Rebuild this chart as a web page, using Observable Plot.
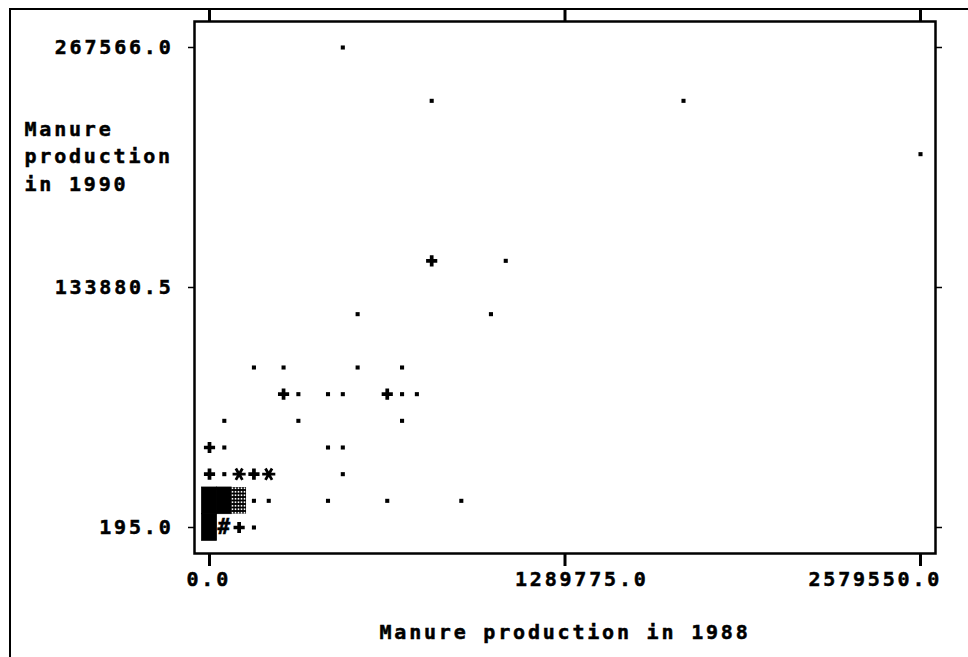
<!DOCTYPE html>
<html>
<head>
<meta charset="utf-8">
<script src="https://cdn.jsdelivr.net/npm/d3@7"></script>
<script src="https://cdn.jsdelivr.net/npm/@observablehq/plot@0.6"></script>
<style>
  html, body { margin: 0; padding: 0; background: white; overflow: hidden; }
  #wrap { position: relative; width: 968px; height: 657px; background: white; }
  #outer { position: absolute; left: 9px; top: 8px; width: 1000px; height: 700px;
           border-left: 2px solid black; border-top: 2px solid black; pointer-events: none; }
  #wrap svg { position: absolute; left: 0; top: 0; }
  #wrap svg text { stroke: black; stroke-width: 0.5px; }
</style>
</head>
<body>
<div id="wrap"><div id="outer"></div></div>
<script>
// Manure production, 1988 (x) vs 1990 (y); one entry per plotted character cell
const manure1988 = [
  483666, 806109, 1719700, 2579550, 806109, 1074813, 537406, 1021072,
  161222, 268703, 537406, 698628,
  268703, 322444, 429925, 483666, 644888, 698628, 752369,
  53741, 322444, 698628,
  0, 53741, 429925, 483666,
  0, 53741, 107481, 161222, 214963, 483666,
  0, 53741, 107481, 161222, 214963, 429925, 644888, 913591,
  0, 53741, 107481, 161222
];
const manure1990 = [
  267566, 237858, 237858, 208150, 148734, 148734, 119027, 119027,
  89319, 89319, 89319, 89319,
  74465, 74465, 74465, 74465, 74465, 74465, 74465,
  59611, 59611, 59611,
  44757, 44757, 44757, 44757,
  29903, 29903, 29903, 29903, 29903, 29903,
  15049, 15049, 15049, 15049, 15049, 15049, 15049, 15049,
  195, 195, 195, 195
];
// plot symbol per cell: "." one, "+" two, "*" three, "#" four, "shade" many, "solid" most
const symbols = [
  ".", ".", ".", ".", "+", ".", ".", ".",
  ".", ".", ".", ".",
  "+", ".", ".", ".", "+", ".", ".",
  ".", ".", ".",
  "+", ".", ".", ".",
  "+", ".", "*", "+", "*", ".",
  "solid", "solid", "shade", ".", ".", ".", ".", ".",
  "solid", "#", "+", "."
];

const xTicks = [0, 1289775, 2579550];
const xTickLabels = ["0.0", "1289775.0", "2579550.0"];
const yTicks = [195, 133880.5, 267566];
const yTickLabels = ["195.0", "133880.5", "267566.0"];
const xTitle = "Manure production in 1988";
const yTitle = "Manure\nproduction\nin 1990";

// character cell size of the line-printer plot (48 columns, 18 rows between ticks)
const cellX = (xTicks[2] - xTicks[0]) / 48;
const cellY = (yTicks[2] - yTicks[0]) / 18;

const data = manure1988.map((x, i) => ({x, y: manure1990[i], s: symbols[i]}));
const bySym = s => data.filter(d => d.s === s);

const font = "'DejaVu Sans Mono', 'Liberation Mono', monospace";
const xLabel = (i, dx) => Plot.axisX([xTicks[i]], {anchor: "bottom", tickSize: 0, tickPadding: 18, textAnchor: "start", dx, tickFormat: v => xTickLabels[xTicks.indexOf(v)], label: null});

const svg = Plot.plot({
  width: 968,
  height: 657,
  marginLeft: 194,
  marginRight: 33,
  marginTop: 21,
  marginBottom: 104,
  x: {domain: [-54421, 2633971]},
  y: {domain: [-14288, 282049]},
  style: {fontFamily: font, fontSize: "20px", fontWeight: "bold", letterSpacing: "2.8px", background: "transparent", color: "black"},
  marks: [
    Plot.rect(bySym("solid"), {x1: d => d.x - cellX / 2, x2: d => d.x + cellX / 2, y1: d => d.y - cellY / 2, y2: d => d.y + cellY / 2, fill: "black", stroke: "black", strokeWidth: 0.8, inset: 0}),
    Plot.rect(bySym("shade"), {x1: d => d.x - cellX / 2, x2: d => d.x + cellX / 2, y1: d => d.y - cellY / 2, y2: d => d.y + cellY / 2, fill: "url(#shade)", inset: 0}),
    Plot.dot(bySym("."), {x: "x", y: "y", symbol: "square", r: 2.3, fill: "black", stroke: "none"}),
    Plot.dot(bySym("+"), {x: "x", y: "y", symbol: "cross", r: 4.7, fill: "black", stroke: "none"}),
    Plot.dot(bySym("*"), {x: "x", y: "y", symbol: "asterisk", r: 6.2, stroke: "black", strokeWidth: 2.8, rotate: 90}),
    Plot.text(bySym("#"), {x: "x", y: "y", text: () => "#", fontSize: 21, fontWeight: "bold", fill: "black", dx: 1}),
    Plot.frame({stroke: "black", strokeWidth: 2.5}),
    // top and bottom x tick marks
    Plot.axisX(xTicks, {anchor: "top", tickSize: 13, strokeWidth: 3, tickFormat: () => "", label: null}),
    Plot.axisX(xTicks, {anchor: "bottom", tickSize: 13, strokeWidth: 3, tickFormat: () => "", label: null}),
    // x tick labels (shifted like the line-printer layout)
    xLabel(0, -23),
    xLabel(1, -50),
    xLabel(2, -112),
    // y axes
    Plot.axisY(yTicks, {anchor: "left", tickSize: 6, strokeWidth: 1.5, tickPadding: 15, tickFormat: v => yTickLabels[yTicks.indexOf(v)], label: null}),
    Plot.axisY(yTicks, {anchor: "right", tickSize: 6, strokeWidth: 1.5, tickFormat: () => "", label: null}),
    // axis titles
    Plot.text([xTitle], {frameAnchor: "bottom", dy: 85, text: d => d, fill: "black"}),
    Plot.text([yTitle], {frameAnchor: "top-left", dx: -170, dy: 133, text: d => d, textAnchor: "start", lineAnchor: "middle", lineHeight: 1.37, fill: "black"})
  ]
});

d3.select(svg).insert("defs", ":first-child").html(
  '<pattern id="shade" width="3" height="3.5" patternUnits="userSpaceOnUse">' +
  '<rect width="3" height="3.5" fill="black"/>' +
  '<rect x="0.7" y="0.9" width="1.6" height="1.7" fill="white"/>' +
  '</pattern>'
);

document.getElementById("wrap").appendChild(svg);
</script>
</body>
</html>
